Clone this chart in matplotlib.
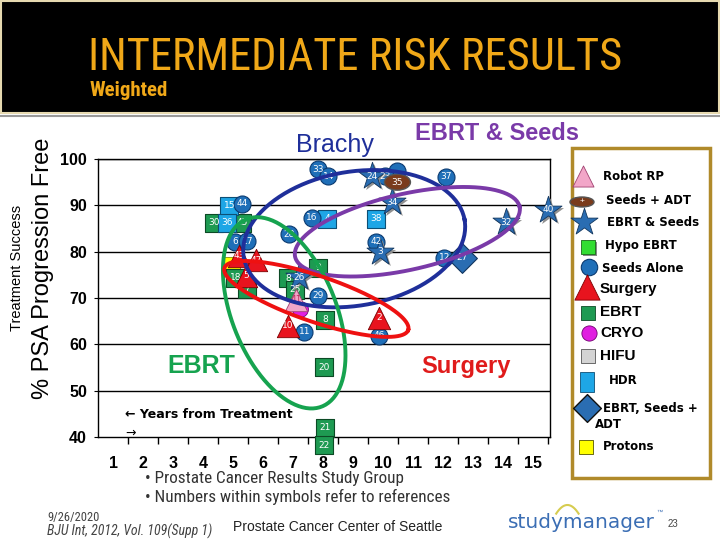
import matplotlib.pyplot as plt
import matplotlib.transforms as mtransforms
from matplotlib.patches import Rectangle, Ellipse
from matplotlib import font_manager
import numpy as np

# ---- data (x = years from treatment, y = % PSA progression free)
seeds_x = [7.83, 8.17, 5.3, 7.63, 6.87, 5.07, 5.47, 7.83, 7.37, 10.47, 10.07, 12.1, 9.77, 12.03, 9.87]
seeds_y = [97.8, 96.3, 90.3, 87.3, 83.8, 82.1, 82.3, 70.5, 62.7, 97.4, 96.3, 96.2, 82.1, 78.7, 61.9]
seeds_ref = ["33", "14", "44", "16", "28", "6", "17", "29", "11", "", "23", "37", "42", "12", "46"]

star_x = [9.63, 10.3, 14.07, 15.5, 9.9, 7.2]
star_y = [96.3, 90.7, 86.4, 89.0, 80.0, 74.5]
star_ref = ["24", "34", "32", "40", "3", "26"]

hdr_x = [4.87, 4.8, 8.13, 9.77]
hdr_y = [89.9, 86.2, 87.1, 87.1]
hdr_ref = ["15", "36", "4", "38"]

ebrt_x = [4.37, 5.3, 5.07, 5.47, 7.83, 6.83, 7.07, 8.07, 8.03, 8.07, 8.03]
ebrt_y = [86.2, 86.2, 74.4, 72.0, 76.5, 74.3, 71.8, 65.3, 55.0, 42.0, 38.2]
ebrt_ref = ["30", "45", "18", "7", "9", "8", "25", "8", "20", "21", "22"]

surg_x = [5.2, 5.77, 5.43, 6.83, 9.87]
surg_y = [79.1, 78.2, 74.8, 64.0, 65.7]
surg_ref = ["43", "47", "5", "10", "2"]

protons_x, protons_y = [4.97], [77.2]
robot_x, robot_y, robot_ref = [7.1], [69.6], ["41"]
cryo_x, cryo_y = [7.23], [67.6]
sadt_x, sadt_y, sadt_ref = [10.47], [95.0], ["35"]
diam_x, diam_y, diam_ref = [12.63], [78.7], ["27"]

# group outlines: centre (years, %), semi axes (px), angle (deg), colour
groups = [
    ("Brachy", 9.03, 82.8, 112, 67, 9.6, "#1f2f9a"),
    ("EBRT & Seeds", 10.8, 84.3, 115, 38, 12.6, "#7a3aa8"),
    ("EBRT", 6.7, 66.8, 101, 52, 112, "#16a34f"),
    ("Surgery", 7.77, 69.8, 97, 23, -18.7, "#ee1111"),
]

x_ticks = list(range(1, 16))
y_ticks = [40, 50, 60, 70, 80, 90, 100]

plt.rcParams['font.family'] = ['Liberation Sans', 'DejaVu Sans']

# a narrow face for title and footer, if one is installed
have = {f.name for f in font_manager.fontManager.ttflist}
narrow = [n for n in ["Liberation Sans Narrow", "DejaVu Sans Condensed", "Roboto Condensed",
                      "Open Sans Condensed", "Noto Sans Condensed"] if n in have]
narrow_ok = len(narrow) > 0
narrow = narrow + ["Liberation Sans", "DejaVu Sans"]

fig = plt.figure(figsize=(7.2, 5.4), dpi=100)
W, H = 720, 540

# main axes
ax = fig.add_axes([98 / W, 1 - 437 / H, (550 - 98) / W, (437 - 159) / H])
ax.set_xlim(0.5, 15.55)
ax.set_ylim(40, 100)
ax.set_yticks(y_ticks)
ax.set_yticklabels([str(v) for v in y_ticks], fontsize=11.5, fontweight="bold")
ax.set_xticks(x_ticks)
ax.set_xticklabels([str(v) for v in x_ticks], fontsize=11.5, fontweight="bold")
ax.set_xticks(np.arange(1.5, 15.6, 1.0), minor=True)
ax.tick_params(axis="x", which="major", length=0, pad=14)
ax.tick_params(axis="x", which="minor", length=5, direction="out", width=1)
ax.tick_params(axis="y", length=3, direction="out", pad=5)
for yv in y_ticks[1:]:
    ax.axhline(yv, color="black", lw=1, zorder=1)
for s in ax.spines.values():
    s.set_linewidth(1)

# overlay in pixel coords for the slide decoration, drawn above the plot
deco = fig.add_axes([0, 0, 1, 1])
deco.set_xlim(0, W)
deco.set_ylim(H, 0)
deco.axis("off")
deco.set_zorder(10)
deco.patch.set_visible(False)
deco.add_patch(Rectangle((1, 1), 718, 112, facecolor="black", edgecolor="#e6d9b0", lw=1.5))
deco.plot([0, 720], [116, 116], color="#9a9a9a", lw=1.5)
deco.text(355, 58, "INTERMEDIATE RISK RESULTS", color="#f0a818",
          fontsize=32 if narrow_ok else 27, family=narrow, ha="center", va="center")
deco.text(90, 91, "Weighted", color="#f0a818", fontsize=15 if narrow_ok else 11,
          fontweight="bold", family=narrow, ha="left", va="center")

deco.text(43, 268, "% PSA Progression Free", rotation=90, fontsize=17,
          ha="center", va="center")
deco.text(17, 268, "Treatment Success", rotation=90, fontsize=10.5,
          ha="center", va="center")

shadow = mtransforms.offset_copy(ax.transData, fig=fig, x=2, y=-2, units="dots")


def labels(xs, ys, refs, z, color="white"):
    for x, y, r in zip(xs, ys, refs):
        if r:
            ax.text(x, y, r, color=color, fontsize=6.5, ha="center", va="center",
                    zorder=z + 0.5, clip_on=False, family="DejaVu Sans")


# EBRT squares
ax.scatter(ebrt_x, ebrt_y, s=150, marker="s", color="#1e9a52", edgecolor="#0c4a25",
           lw=0.8, zorder=3, clip_on=False)
labels(ebrt_x, ebrt_y, ebrt_ref, 3)
# HDR
ax.scatter(hdr_x, hdr_y, s=150, marker="s", color="#1ea6e6", edgecolor="#0d4f75",
           lw=0.8, zorder=3)
labels(hdr_x, hdr_y, hdr_ref, 3)
# protons
ax.scatter(protons_x, protons_y, s=120, marker="s", color="#ffff00", edgecolor="#888800",
           lw=0.6, zorder=2.8)
# seeds alone
ax.scatter(seeds_x, seeds_y, s=150, marker="o", color="#1f6fb8", edgecolor="#0b3a70",
           lw=0.8, zorder=3.2)
labels(seeds_x, seeds_y, seeds_ref, 3.2)
# EBRT & seeds stars
ax.scatter(star_x, star_y, s=420, marker="*", color="#909090", lw=0, zorder=3.3,
           transform=shadow, clip_on=False)
ax.scatter(star_x, star_y, s=420, marker="*", color="#2a6db2", edgecolor="#12365e",
           lw=0.6, zorder=3.4, clip_on=False)
labels(star_x, star_y, star_ref, 3.4)
# surgery
ax.scatter(surg_x, surg_y, s=260, marker="^", color="#e8141e", edgecolor="#7a0000",
           lw=0.6, zorder=3.6)
labels(surg_x, surg_y, surg_ref, 3.6)
# robot RP / cryo
ax.scatter(cryo_x, cryo_y, s=130, marker="o", color="#e01fe0", edgecolor="#700070",
           lw=0.6, zorder=3.7)
ax.scatter(robot_x, robot_y, s=260, marker="^", color="#f2a6c8", edgecolor="#a04070",
           lw=0.6, zorder=3.8)
labels(robot_x, robot_y, robot_ref, 3.8, color="#c03060")
# seeds + ADT
for x, y in zip(sadt_x, sadt_y):
    ax.add_patch(Ellipse((x, y), 26 / 30, 16 / 4.64, facecolor="#7a3b1c",
                         edgecolor="#555555", lw=1, zorder=3.9))
labels(sadt_x, sadt_y, sadt_ref, 3.9)
# EBRT, seeds + ADT
ax.scatter(diam_x, diam_y, s=230, marker="D", color="#2a6db2", edgecolor="#12365e",
           lw=0.8, zorder=3.5)
labels(diam_x, diam_y, diam_ref, 3.5)

# group outlines, drawn in pixel space then put back in data units
sx = ax.get_window_extent().width / (ax.get_xlim()[1] - ax.get_xlim()[0])
sy = ax.get_window_extent().height / (ax.get_ylim()[1] - ax.get_ylim()[0])
t = np.linspace(0, 2 * np.pi, 200)
for name, cx, cy, a, b, ang, col in groups:
    th = np.radians(ang)
    u, v = a * np.cos(t), b * np.sin(t)
    X = u * np.cos(th) - v * np.sin(th)
    Y = u * np.sin(th) + v * np.cos(th)
    ax.plot(cx + X / sx, cy + Y / sy, color=col, lw=2.8, zorder=5, clip_on=False)

# group names
deco.text(335, 145, "Brachy", color="#1f2f9a", fontsize=18, ha="center", va="center")
deco.text(497, 134, "EBRT & Seeds", color="#7a3aa8", fontsize=17, fontweight="bold",
          ha="center", va="center")
deco.text(201, 366, "EBRT", color="#16a34f", fontsize=18, fontweight="bold",
          ha="center", va="center")
deco.text(466, 367, "Surgery", color="#e01b1b", fontsize=17, fontweight="bold",
          ha="center", va="center")
deco.text(125, 415, "\u2190 Years from Treatment", fontsize=9, fontweight="bold",
          family="DejaVu Sans", ha="left", va="center")
deco.text(125, 433, "\u2192", fontsize=9, family="DejaVu Sans", ha="left", va="center")

# legend box
deco.add_patch(Rectangle((572, 148), 138, 330, facecolor="white", edgecolor="#b08a2a", lw=2.5))
small = dict(fontsize=8.5, fontweight="bold", family="DejaVu Sans", va="center", ha="left")
big = dict(fontsize=11, fontweight="bold", va="center", ha="left")
deco.scatter([583], [176], s=230, marker="^", color="#f2a6c8", edgecolor="#a04070", lw=0.6)
deco.text(603, 176, "Robot RP", **small)
deco.add_patch(Ellipse((582, 202), 24, 10, facecolor="#7a3b1c", edgecolor="#555555", lw=1))
deco.text(582, 202, "+", color="white", fontsize=6, ha="center", va="center")
deco.text(606, 201, "Seeds + ADT", **small)
deco.scatter([584], [222], s=420, marker="*", color="#2a6db2", edgecolor="#12365e", lw=0.6)
deco.text(607, 222, "EBRT & Seeds", **small)
deco.scatter([590], [249], s=110, marker="s", color="#888888", lw=0)
deco.scatter([588], [247], s=110, marker="s", color="#33dd33", edgecolor="#1a6a1a", lw=0.6)
deco.text(605, 246, "Hypo EBRT", **small)
deco.scatter([589], [267], s=140, marker="o", color="#1f6fb8", edgecolor="#0b3a70", lw=0.8)
deco.text(602, 269, "Seeds Alone", **small)
deco.scatter([587], [287], s=330, marker="^", color="#e8141e", edgecolor="#7a0000", lw=0.6)
deco.text(600, 289, "Surgery", **big)
deco.scatter([588], [313], s=110, marker="s", color="#1e9a52", edgecolor="#0c4a25", lw=0.6)
deco.text(600, 312, "EBRT", **big)
deco.scatter([589], [333], s=120, marker="o", color="#e01fe0", edgecolor="#700070", lw=0.6)
deco.text(600, 333, "CRYO", **big)
deco.scatter([588], [356], s=110, marker="s", color="#d4d4d4", edgecolor="#555555", lw=0.6)
deco.add_patch(Rectangle((580, 372), 14, 20, facecolor="#1ea6e6", edgecolor="#0d4f75", lw=0.6))
deco.text(600, 356, "HIFU", **big)
deco.text(609, 381, "HDR", **small)
deco.scatter([587], [408], s=200, marker="D", color="#2a6db2", edgecolor="#111111", lw=1)
deco.text(603, 408, "EBRT, Seeds +", **small)
deco.text(595, 425, "ADT", **small)
deco.scatter([586], [447], s=110, marker="s", color="#ffff00", edgecolor="#555500", lw=0.6)
deco.text(603, 447, "Protons", **small)

# footer
fsz = 12.3 if narrow_ok else 9.5
deco.text(145, 478, "\u2022 Prostate Cancer Results Study Group", fontsize=fsz,
          family=narrow, color="#333333", ha="left", va="center")
deco.text(145, 497, "\u2022 Numbers within symbols refer to references", fontsize=fsz,
          family=narrow, color="#333333", ha="left", va="center")
deco.text(47, 518, "9/26/2020", fontsize=9 if narrow_ok else 7.5, family=narrow,
          color="#444444", va="center")
deco.text(47, 531, "BJU Int, 2012, Vol. 109(Supp 1)", fontsize=10 if narrow_ok else 7.5,
          family=narrow, style="italic", color="#444444", va="center")
deco.text(233, 527, "Prostate Cancer Center of Seattle", fontsize=10, color="#222222",
          va="center")
deco.text(508, 523, "studymanager", fontsize=14.5, color="#3b6eb4", family="DejaVu Sans",
          va="center", ha="left")
deco.text(656, 512, "\u2122", fontsize=4.5, color="#3b6eb4", va="center")
deco.text(668, 524, "23", fontsize=7, color="#444444", va="center")
arc_t = np.linspace(0.15, 0.95, 40)
deco.plot(552 + 28 * arc_t, 505 + 18 * (arc_t - 0.55) ** 2 * 3, color="#d6cc50", lw=1.5)

fig.savefig("out.png", dpi=100)
